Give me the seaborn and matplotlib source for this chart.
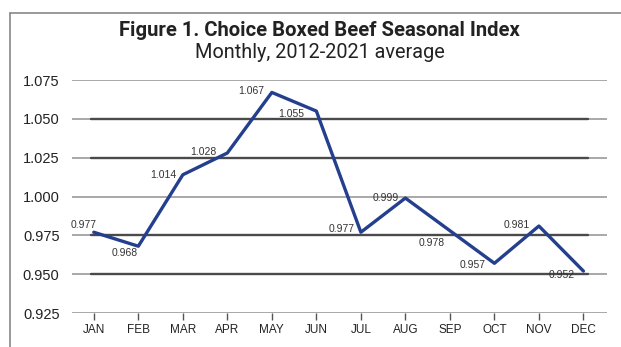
import matplotlib
matplotlib.use("Agg")
import matplotlib.pyplot as plt
import seaborn as sns
import pandas as pd
from matplotlib.lines import Line2D

months = ["JAN", "FEB", "MAR", "APR", "MAY", "JUN", "JUL", "AUG", "SEP", "OCT", "NOV", "DEC"]
index_values = [0.977, 0.968, 1.014, 1.028, 1.067, 1.055, 0.977, 0.999, 0.978, 0.957, 0.981, 0.952]
y_ticks = [0.925, 0.950, 0.975, 1.000, 1.025, 1.050, 1.075]
y_tick_labels = ["0.925", "0.950", "0.975", "1.000", "1.025", "1.050", "1.075"]
dark_grid = [0.950, 0.975, 1.025, 1.050]

# label offsets (points) per month
label_offsets = [(-7, 5), (-9.5, -5), (-14, 0), (-17, 1), (-15, 1), (-18, -2),
                 (-14, 2), (-14, 0), (-13, -9), (-16, -1), (-16, 1), (-16, -3)]

sns.set_theme(style="white")
plt.rcParams['font.family'] = ['Liberation Sans', 'DejaVu Sans']

df = pd.DataFrame({"month": months, "index": index_values, "x": range(len(months))})

fig = plt.figure(figsize=(6.21, 3.47), dpi=100)
ax = fig.add_axes([72/621, 1 - 313/347, (607 - 72)/621, (313 - 80)/347])

for yv in y_ticks:
    ax.axhline(yv, color="#a8a8a8", lw=1.4, zorder=1)
for yv in dark_grid:
    ax.plot([-0.07, 11.1], [yv, yv], color="#4a4a4a", lw=1.7, zorder=2)

sns.lineplot(data=df, x="x", y="index", ax=ax, color="#243f8e", lw=2.4, zorder=3)

for i, (m, v) in enumerate(zip(months, index_values)):
    dx, dy = label_offsets[i]
    ax.annotate(f"{v:.3f}", (i, v), xytext=(dx, dy), textcoords="offset points",
                ha="center", va="center", fontsize=7.5, color="#333333", zorder=4)

ax.set_xlim(-0.49, 11.53)
ax.set_ylim(0.925, 1.075)
ax.set_xticks(range(len(months)))
ax.set_xticklabels(months, fontsize=8.5, color="#222222")
ax.set_yticks(y_ticks)
ax.set_yticklabels(y_tick_labels, fontsize=10.5, color="#222222")
ax.tick_params(axis="x", length=5, width=1, color="#555555", direction="out", pad=3, bottom=True)
ax.tick_params(axis="y", length=0, pad=9)
ax.set_xlabel("")
ax.set_ylabel("")
for s in ax.spines.values():
    s.set_visible(False)

fig.text(0.515, 1 - 30/347, "Figure 1. Choice Boxed Beef Seasonal Index", ha="center", va="center",
         fontsize=14.6, fontweight="bold", family=["Roboto", "DejaVu Sans"], color="#222222")
fig.text(0.515, 1 - 53/347, "Monthly, 2012-2021 average", ha="center", va="center",
         fontsize=14.3, family=["Roboto", "DejaVu Sans"], color="#222222")

fig.add_artist(Line2D([10/621, 10/621], [0, 1 - 13/347], transform=fig.transFigure, color="#888888", lw=1.2))
fig.add_artist(Line2D([10/621, 1], [1 - 13/347, 1 - 13/347], transform=fig.transFigure, color="#888888", lw=1.2))

fig.savefig("out.png", dpi=100)
